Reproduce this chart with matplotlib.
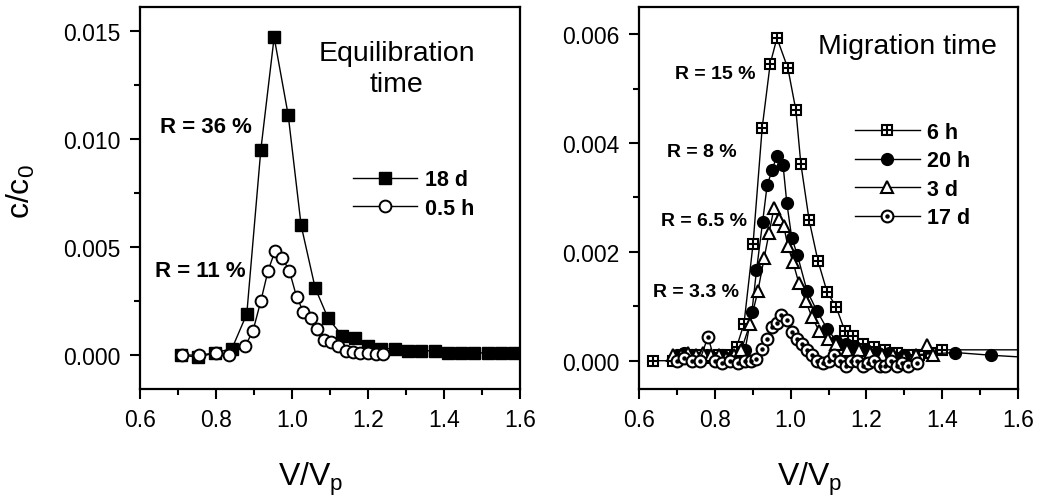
import matplotlib
matplotlib.use("Agg")
import matplotlib.pyplot as plt
from matplotlib.ticker import MultipleLocator, FormatStrFormatter
from matplotlib.legend_handler import HandlerTuple
from matplotlib.lines import Line2D

plt.rcParams['font.family'] = ['Liberation Sans', 'DejaVu Sans']
plt.rcParams['mathtext.fontset'] = 'custom'
plt.rcParams['mathtext.rm'] = 'Liberation Sans'

# ---------------- data: left panel (equilibration time) ----------------
eq18_x = [0.708, 0.753, 0.797, 0.842, 0.881, 0.918, 0.953, 0.990, 1.024, 1.061, 1.095,
          1.132, 1.166, 1.20, 1.235, 1.27, 1.305, 1.34, 1.375, 1.41, 1.445, 1.48,
          1.515, 1.55, 1.585, 1.62]
eq18_y = [0.0, -0.0001, 0.0001, 0.0003, 0.0019, 0.0095, 0.0147, 0.0111, 0.0060, 0.0031,
          0.0017, 0.0009, 0.0008, 0.0004, 0.0003, 0.0003, 0.0002, 0.0002, 0.0002, 0.0001,
          0.0001, 0.0001, 0.0001, 0.0001, 0.0001, 0.0001]
eq05_x = [0.71, 0.755, 0.80, 0.834, 0.876, 0.897, 0.918, 0.937, 0.955, 0.974, 0.993,
          1.012, 1.030, 1.049, 1.066, 1.084, 1.103, 1.121, 1.142, 1.16, 1.18, 1.20,
          1.22, 1.24]
eq05_y = [0.0, 0.0, 0.0001, 0.0, 0.0004, 0.0011, 0.0025, 0.0039, 0.0048, 0.0045, 0.0039,
          0.0027, 0.0020, 0.0017, 0.0012, 0.0007, 0.0006, 0.0004, 0.0002, 0.00015,
          0.0001, 0.0001, 0.00005, 0.00005]

# ---------------- data: right panel (migration time) ----------------
m6h_x = [0.637, 0.69, 0.72, 0.75, 0.78, 0.81, 0.84, 0.858, 0.877, 0.901, 0.925, 0.946,
         0.964, 0.993, 1.014, 1.027, 1.049, 1.072, 1.096, 1.12, 1.143, 1.165, 1.19,
         1.22, 1.25, 1.28, 1.31, 1.34, 1.37, 1.40, 1.65]
m6h_y = [0.0, 0.0, 0.00005, 0.0001, 0.00005, 0.0001, 0.0001, 0.00026, 0.00068, 0.00215,
         0.00428, 0.00545, 0.00593, 0.00537, 0.0046, 0.00362, 0.00258, 0.00184, 0.00127,
         0.00099, 0.00055, 0.00046, 0.0003, 0.00025, 0.0002, 0.00015, 0.0001, 0.0001,
         0.00015, 0.0002, 0.0002]
m20h_x = [0.70, 0.72, 0.74, 0.76, 0.78, 0.80, 0.82, 0.84, 0.86, 0.88, 0.898, 0.91, 0.926,
          0.938, 0.951, 0.964, 0.98, 0.99, 1.003, 1.018, 1.043, 1.069, 1.096, 1.12,
          1.145, 1.17, 1.20, 1.23, 1.26, 1.30, 1.435, 1.53, 1.65]
m20h_y = [0.0001, 0.00015, 0.0001, 0.00005, 0.0001, 0.00005, 0.0001, 0.00005, 0.0001,
          0.0002, 0.0009, 0.00166, 0.00254, 0.00322, 0.0035, 0.00377, 0.0036, 0.0029,
          0.00226, 0.00194, 0.00129, 0.00092, 0.00059, 0.00037, 0.0003, 0.00025, 0.0002,
          0.00015, 0.00015, 0.0001, 0.00015, 0.0001, 0.00005]
m3d_x = [0.69, 0.71, 0.73, 0.75, 0.77, 0.79, 0.81, 0.83, 0.85, 0.87, 0.893, 0.914, 0.93,
         0.943, 0.956, 0.969, 0.982, 0.993, 1.006, 1.022, 1.04, 1.056, 1.075, 1.098,
         1.12, 1.15, 1.18, 1.21, 1.24, 1.27, 1.30, 1.33, 1.36, 1.376]
m3d_y = [0.0001, 0.0001, 0.00015, 0.0001, 0.00015, 0.0001, 0.0001, 0.00005, 0.0001,
         0.0002, 0.00068, 0.00129, 0.00188, 0.00234, 0.0028, 0.00261, 0.00247, 0.0021,
         0.00182, 0.00142, 0.00109, 0.00081, 0.00055, 0.0004, 0.0003, 0.0002, 0.0002,
         0.00015, 0.0001, 0.0001, 0.00005, 0.0001, 0.00028, 0.0001]
m17d_x = [0.70, 0.72, 0.74, 0.76, 0.782, 0.80, 0.82, 0.84, 0.86, 0.88, 0.895, 0.91, 0.925,
          0.938, 0.951, 0.964, 0.975, 0.99, 1.003, 1.017, 1.03, 1.043, 1.057, 1.07,
          1.085, 1.10, 1.115, 1.13, 1.145, 1.16, 1.175, 1.19, 1.205, 1.22, 1.235, 1.25,
          1.265, 1.28, 1.295, 1.31, 1.333]
m17d_y = [0.0, 0.00005, 0.0, 0.0, 0.00044, 0.0, -0.00005, 0.0, -0.00005, 0.0, 0.0,
          0.00004, 0.00022, 0.0004, 0.00062, 0.0007, 0.00084, 0.00074, 0.00053, 0.0004,
          0.0003, 0.0002, 0.0001, 0.0, -0.00005, 0.0, 0.0001, 0.0, -0.0001, 0.0, 0.0,
          -0.0001, -0.00005, 0.0, -0.0001, -0.0001, 0.0, -0.0001, -0.00005, -0.0001,
          -0.00005]

left_labels = ["18 d", "0.5 h"]
right_labels = ["6 h", "20 h", "3 d", "17 d"]
left_R = ["R = 36 %", "R = 11 %"]
right_R = ["R = 15 %", "R = 8 %", "R = 6.5 %", "R = 3.3 %"]

W, H = 1038, 502
fig = plt.figure(figsize=(W / 100, H / 100), dpi=100)
axL = fig.add_axes([140 / W, 1 - 390 / H, 380 / W, 382 / H])
axR = fig.add_axes([639 / W, 1 - 390 / H, 379 / W, 382 / H])

for ax in (axL, axR):
    ax.set_xlim(0.6, 1.6)
    ax.xaxis.set_major_locator(MultipleLocator(0.2))
    ax.xaxis.set_minor_locator(MultipleLocator(0.1))
    ax.xaxis.set_major_formatter(FormatStrFormatter('%.1f'))
    ax.yaxis.set_major_formatter(FormatStrFormatter('%.3f'))
    for s in ax.spines.values():
        s.set_linewidth(1.6)
    ax.tick_params(which='major', direction='out', length=7, width=1.5, labelsize=16.5,
                   top=False, right=False, pad=7)
    ax.tick_params(which='minor', direction='out', length=4, width=1.5,
                   top=False, right=False)
    ax.set_xlabel("V/V$_\\mathregular{p}$", fontsize=23)
    ax.xaxis.set_label_coords(0.45, -0.185)

# left panel
axL.set_ylim(-0.00157, 0.0161)
axL.yaxis.set_major_locator(MultipleLocator(0.005))
axL.yaxis.set_minor_locator(MultipleLocator(0.0025))
axL.plot(eq18_x, eq18_y, '-', color='black', lw=1.0, marker='s', ms=9,
         mfc='black', mec='black')
axL.plot(eq05_x, eq05_y, '-', color='black', lw=1.0, marker='o', ms=8.5,
         mfc='white', mec='black', mew=1.4)
axL.set_ylabel("c/c$_\\mathregular{0}$", fontsize=23)
axL.yaxis.set_label_coords(-0.27, 0.52)

hL = [Line2D([], [], color='black', lw=1.0, marker='s', ms=9, mfc='black', mec='black'),
      Line2D([], [], color='black', lw=1.0, marker='o', ms=8.5, mfc='white', mec='black', mew=1.4)]
axL.legend(hL, left_labels, loc='upper left', bbox_to_anchor=(0.56, 0.575),
           frameon=False, prop={'weight': 'bold', 'size': 15.5}, handlelength=3.0,
           handletextpad=0.35, labelspacing=0.35, borderpad=0, borderaxespad=0)

axL.text(0.774, 0.01056, left_R[0], fontsize=16, fontweight='bold', ha='center', va='center')
axL.text(0.758, 0.00389, left_R[1], fontsize=16, fontweight='bold', ha='center', va='center')
axL.text(1.275, 0.01324, "Equilibration\ntime", fontsize=20.5, ha='center', va='center',
         linespacing=1.25)

# right panel
axR.set_ylim(-0.00052, 0.0065)
axR.yaxis.set_major_locator(MultipleLocator(0.002))
axR.yaxis.set_minor_locator(MultipleLocator(0.001))

ms = 7.5
axR.plot(m6h_x, m6h_y, '-', color='black', lw=1.0, marker='s', ms=ms, mfc='white',
         mec='black', mew=1.5)
axR.plot(m6h_x, m6h_y, ls='none', marker='+', ms=ms, mec='black', mew=1.5)
axR.plot(m20h_x, m20h_y, '-', color='black', lw=1.0, marker='o', ms=8.5, mfc='black',
         mec='black')
axR.plot(m3d_x, m3d_y, '-', color='black', lw=1.0, marker='^', ms=8.5, mfc='white',
         mec='black', mew=1.5)
axR.plot(m17d_x, m17d_y, '-', color='black', lw=1.0, marker='o', ms=8.5, mfc='white',
         mec='black', mew=1.5)
axR.plot(m17d_x, m17d_y, ls='none', marker='o', ms=2.2, mfc='black', mec='black')

h6 = (Line2D([], [], color='black', lw=1.0, marker='s', ms=ms, mfc='white', mec='black', mew=1.5),
      Line2D([], [], ls='none', marker='+', ms=ms, mec='black', mew=1.5))
h20 = Line2D([], [], color='black', lw=1.0, marker='o', ms=8.5, mfc='black', mec='black')
h3 = Line2D([], [], color='black', lw=1.0, marker='^', ms=8.5, mfc='white', mec='black', mew=1.5)
h17 = (Line2D([], [], color='black', lw=1.0, marker='o', ms=8.5, mfc='white', mec='black', mew=1.5),
       Line2D([], [], ls='none', marker='o', ms=2.2, mfc='black', mec='black'))
axR.legend([h6, h20, h3, h17], right_labels, loc='upper left', bbox_to_anchor=(0.57, 0.70),
           frameon=False, prop={'weight': 'bold', 'size': 15.5}, handlelength=3.0,
           handletextpad=0.35, labelspacing=0.35, borderpad=0, borderaxespad=0,
           handler_map={tuple: HandlerTuple(ndivide=1, pad=0)})

rx = [0.80, 0.766, 0.771, 0.75]
ry = [0.00528, 0.00385, 0.00258, 0.00127]
for t, x, y in zip(right_R, rx, ry):
    axR.text(x, y, t, fontsize=14, fontweight='bold', ha='center', va='center')
axR.text(1.307, 0.00578, "Migration time", fontsize=20.5, ha='center', va='center')

fig.savefig("out.png", dpi=100)
